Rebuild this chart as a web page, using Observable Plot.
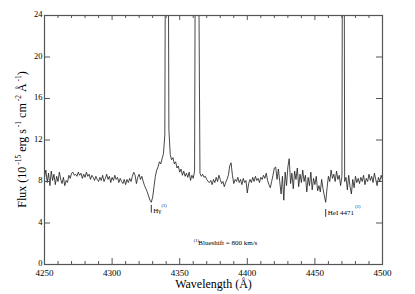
<!DOCTYPE html>
<html><head><meta charset="utf-8">
<script src="https://cdn.jsdelivr.net/npm/d3@7"></script>
<script src="https://cdn.jsdelivr.net/npm/@observablehq/plot@0.6"></script>
<style>html,body{margin:0;padding:0;background:#fff}</style>
</head><body><div id="chart"></div>
<script>
const startWavelength = 4250;
const flux = [
8.4,9.1,7.9,8.8,7.6,9.0,8.1,8.7,7.7,8.5,8.0,8.9,8.2,7.8,8.4,7.6,8.1,7.9,8.6,8.3,
8.8,8.9,8.6,8.7,8.5,8.9,8.6,8.8,8.3,8.7,8.4,8.9,8.5,8.7,8.2,8.6,8.4,8.1,8.5,8.2,
8.0,8.4,8.1,8.6,8.0,8.3,8.7,8.2,8.5,7.9,8.4,8.1,8.6,8.2,8.4,7.9,8.3,8.0,7.8,8.2,
7.7,8.2,7.9,8.3,8.0,8.5,8.9,8.6,7.8,8.4,8.7,8.2,8.5,8.0,7.6,7.3,7.0,6.6,6.2,6.0,
6.5,7.5,8.5,9.1,9.4,9.9,9.7,10.2,10.7,12.5,55,55,13,10.6,10.1,10.3,9.7,9.9,9.3,9.5,
8.9,9.2,8.6,9.0,8.5,8.8,8.4,8.9,8.1,8.6,8.3,9.0,50,50,30,8.8,8.5,8.7,8.4,8.5,
8.2,8.0,7.9,8.1,7.7,8.2,7.9,8.4,8.0,8.6,8.2,7.8,8.0,7.5,7.9,8.2,8.6,9.5,9.8,8.6,
7.8,8.2,8.0,8.4,7.9,8.2,7.7,8.3,7.9,8.1,6.9,7.8,8.2,7.9,8.4,8.0,8.5,8.1,8.3,7.9,
8.4,8.2,8.6,8.3,8.8,8.1,7.7,7.4,8.0,8.6,9.3,9.4,8.2,9.2,8.0,6.8,8.5,6.2,8.9,7.6,
9.4,10.2,7.8,8.8,7.3,9.0,8.2,9.3,7.5,8.7,7.9,9.1,8.0,8.6,7.0,8.4,7.6,8.9,7.2,8.3,
7.7,8.5,7.1,7.6,7.0,8.2,7.3,6.6,6.0,7.4,8.5,8.0,9.1,8.3,8.7,8.0,9.0,8.2,8.6,7.6,
8.5,80,8.0,8.4,7.2,8.6,7.5,6.8,8.2,7.4,8.5,7.9,8.3,7.8,8.4,8.0,8.6,7.7,8.3,8.0,
8.7,8.1,8.5,7.9,8.8,8.2,7.6,8.4,8.0,8.6,8.2
];
const wavelengths = d3.range(startWavelength, startWavelength + flux.length);
const spectrum = wavelengths.map((w, i) => ({wavelength: w, flux: flux[i]}));

const xMajorTicks = [4250, 4300, 4350, 4400, 4450, 4500];
const xMinorTicks = [4260,4270,4280,4290,4310,4320,4330,4340,4360,4370,4380,4390,4410,4420,4430,4440,4460,4470,4480,4490];
const yTicks = [0, 4, 8, 12, 16, 20, 24];

const lineLabels = ["H\u03b3", "HeI 4471"];
const lineWavelengths = [4329, 4458];
const footnote = "Blueshift = 800 km/s";

const W = 415, H = 294, mL = 44, mR = 33, mT = 15, mB = 30;
const innerW = W - mL - mR, innerH = H - mT - mB;
const axisColor = "#555";

const chart = Plot.plot({
  width: W, height: H,
  marginLeft: mL, marginRight: mR, marginTop: mT, marginBottom: mB,
  style: {fontFamily: "Liberation Serif", background: "#fff", color: "#000"},
  x: {domain: [4250, 4500]},
  y: {domain: [0, 24]},
  marks: [
    Plot.line(spectrum, {x: "wavelength", y: "flux", stroke: "#1a1a1a", strokeWidth: 0.8, clip: true}),
    Plot.frame({stroke: axisColor, strokeWidth: 1.2}),
    Plot.tickX(xMinorTicks, {x: d => d, stroke: axisColor, insetTop: innerH - 3}),
    Plot.tickX(xMinorTicks, {x: d => d, stroke: axisColor, insetBottom: innerH - 3}),
    Plot.tickX(xMajorTicks, {x: d => d, stroke: axisColor, insetTop: innerH - 6}),
    Plot.tickX(xMajorTicks, {x: d => d, stroke: axisColor, insetBottom: innerH - 5}),
    Plot.tickY(yTicks, {y: d => d, stroke: axisColor, insetRight: innerW - 6}),
    Plot.tickY(yTicks, {y: d => d, stroke: axisColor, insetLeft: innerW - 6}),
    Plot.axisX({ticks: xMajorTicks, tickSize: 0, tickPadding: 5, fontSize: 9, tickFormat: d => String(d), label: null, fill: "#000"}),
    Plot.axisY({ticks: yTicks, tickSize: 0, tickPadding: 2, fontSize: 8.5, tickFormat: d => String(d), label: null, fill: "#000", dy: -1}),
    Plot.text(["Wavelength (\u00c5)"], {frameAnchor: "bottom", dy: 23, fontSize: 12, text: d => d, fill: "#000"}),
    Plot.ruleX(lineWavelengths, {x: d => d, y1: [4.95, 4.55], y2: [5.7, 5.3], stroke: "#000", strokeWidth: 0.8}),
    Plot.text(lineLabels, {x: lineWavelengths, y: [5.15, 4.95], text: d => d, dx: 2, textAnchor: "start", fontSize: 7, fill: "#000"}),
    Plot.text(["(1)", "(1)"], {x: [4336.6, 4479.8], y: [5.7, 5.55], text: d => d, textAnchor: "start", fontSize: 4.5, fill: "#000"}),
    Plot.text(["(1)"], {x: [4360.4], y: [2.32], text: d => d, textAnchor: "start", fontSize: 4.5, fill: "#000"}),
    Plot.text([footnote], {x: [4363.8], y: [2.1], text: d => d, textAnchor: "start", fontSize: 7, fill: "#000"})
  ]
});

document.getElementById("chart").appendChild(chart);

const ySc = chart.scale("y");
const yCenter = ySc.apply(12);
const t = d3.select(chart).append("text")
  .attr("transform", `translate(26,${yCenter}) rotate(-90)`)
  .attr("text-anchor", "middle")
  .attr("font-size", 12)
  .attr("fill", "#000");
const parts = [["Flux (10", 0], [" -15", 1], [" erg s", 0], [" -1", 1], [" cm", 0], [" -2", 1], [" \u00c5", 0], [" -1", 1], [")", 0]];
let prevSup = false;
for (const [s, sup] of parts) {
  const sp = t.append("tspan").text(s);
  if (sup) { sp.attr("font-size", 7.5).attr("dy", prevSup ? 0 : -5); }
  else { sp.attr("dy", prevSup ? 5 : 0); }
  prevSup = !!sup;
}
</script>
</body></html>
